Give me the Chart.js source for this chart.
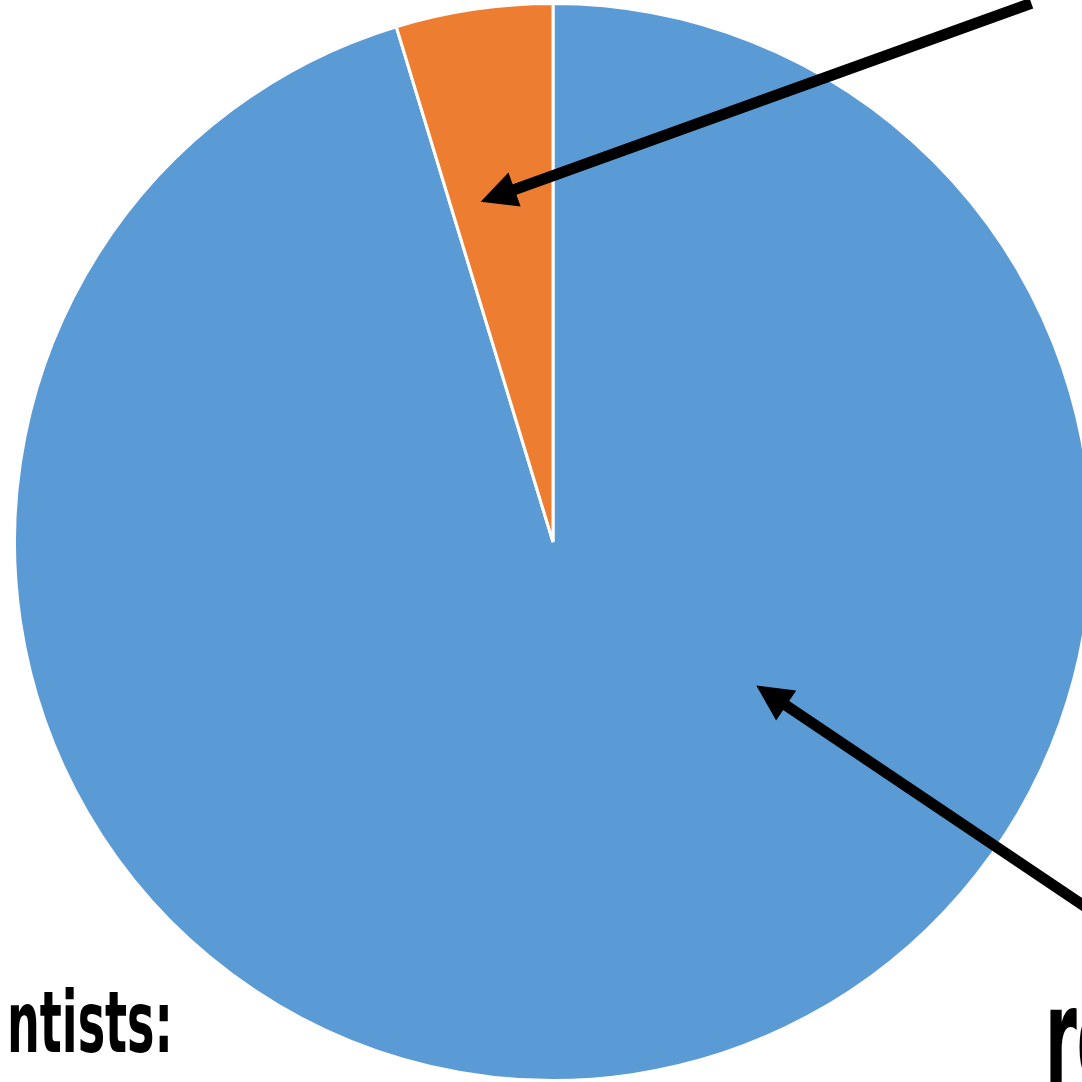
<!DOCTYPE html>
<html>
<head>
<meta charset="utf-8">
<script src="https://cdn.jsdelivr.net/npm/chart.js@4/dist/chart.umd.min.js"></script>
<style>
  html, body { margin: 0; padding: 0; background: #ffffff; overflow: hidden; }
  #wrap { position: absolute; left: 0; top: 0; width: 1100px; height: 1084px; }
</style>
</head>
<body>
<div id="wrap"><canvas id="c" width="1100" height="1084"></canvas></div>
<script>
// ---- data ----
const labels = ['Agree', 'Disagree'];
const values = [95.3, 4.7];
const colors = ['#5B9BD5', '#ED7D31'];

// ---- annotation text ----
const leftText = 'Scientists:';
const leftVisible = 'ntists:';
const rightText = 'results';

// arrows: polar positions relative to the pie (angle clockwise from top in degrees, fraction of radius)
const arrows = [
  { tipAng: -12.0, tipFrac: 0.646, tailAng: 41.6, tailFrac: 1.338 },
  { tipAng: 125.2, tipFrac: 0.462, tailAng: 124.4, tailFrac: 1.234 }
];

const FONT_FAMILY = '"Liberation Sans Narrow", "DejaVu Sans Condensed", "Roboto", sans-serif';

const overlay = {
  id: 'overlay',
  afterDraw(chart) {
    const ctx = chart.ctx;
    const arc = chart.getDatasetMeta(0).data[0];
    const cx = arc.x, cy = arc.y, R = arc.outerRadius;
    const pt = (ang, frac) => {
      const a = ang * Math.PI / 180;
      return [cx + R * frac * Math.sin(a), cy - R * frac * Math.cos(a)];
    };
    // arrows
    arrows.forEach(a => {
      const [tx, ty] = pt(a.tipAng, a.tipFrac);
      const [sx, sy] = pt(a.tailAng, a.tailFrac);
      const dx = sx - tx, dy = sy - ty;
      const L = Math.hypot(dx, dy);
      const ux = dx / L, uy = dy / L;
      const headLen = 36, headW = 18;
      const bx = tx + ux * headLen, by = ty + uy * headLen;
      ctx.save();
      ctx.strokeStyle = '#000';
      ctx.lineWidth = 11;
      ctx.lineCap = 'butt';
      ctx.beginPath();
      ctx.moveTo(sx, sy);
      ctx.lineTo(tx + ux * headLen * 0.8, ty + uy * headLen * 0.8);
      ctx.stroke();
      ctx.fillStyle = '#000';
      ctx.beginPath();
      ctx.moveTo(tx, ty);
      ctx.lineTo(bx - uy * headW, by + ux * headW);
      ctx.lineTo(bx + uy * headW, by - ux * headW);
      ctx.closePath();
      ctx.fill();
      ctx.restore();
    });
    // texts
    ctx.save();
    ctx.fillStyle = '#000';
    ctx.font = 'bold 90px ' + FONT_FAMILY;
    const w = ctx.measureText(leftVisible).width;
    const xh = ctx.measureText('x').actualBoundingBoxAscent || 47;
    const scx = 166 / w, scy = 47 / xh;
    ctx.save();
    ctx.beginPath();
    ctx.rect(6, 900, 400, 200);
    ctx.clip();
    ctx.translate(173, 1052);
    ctx.scale(scx, scy);
    ctx.textAlign = 'right';
    ctx.textBaseline = 'alphabetic';
    ctx.fillText(leftText, 0, 0);
    ctx.restore();
    ctx.save();
    ctx.translate(1045, 1084);
    ctx.scale(scx * 1.4, scy * 1.6);
    ctx.textAlign = 'left';
    ctx.textBaseline = 'alphabetic';
    ctx.fillText(rightText, 0, 0);
    ctx.restore();
    ctx.restore();
  }
};

new Chart(document.getElementById('c'), {
  type: 'pie',
  data: {
    labels: labels,
    datasets: [{
      data: values,
      backgroundColor: colors,
      borderColor: '#ffffff',
      borderWidth: 3
    }]
  },
  options: {
    responsive: false,
    animation: false,
    layout: { padding: { left: 13, top: 2, right: 7, bottom: 2 } },
    plugins: {
      legend: { display: false },
      tooltip: { enabled: false },
      title: { display: false }
    }
  },
  plugins: [overlay]
});
</script>
</body>
</html>
